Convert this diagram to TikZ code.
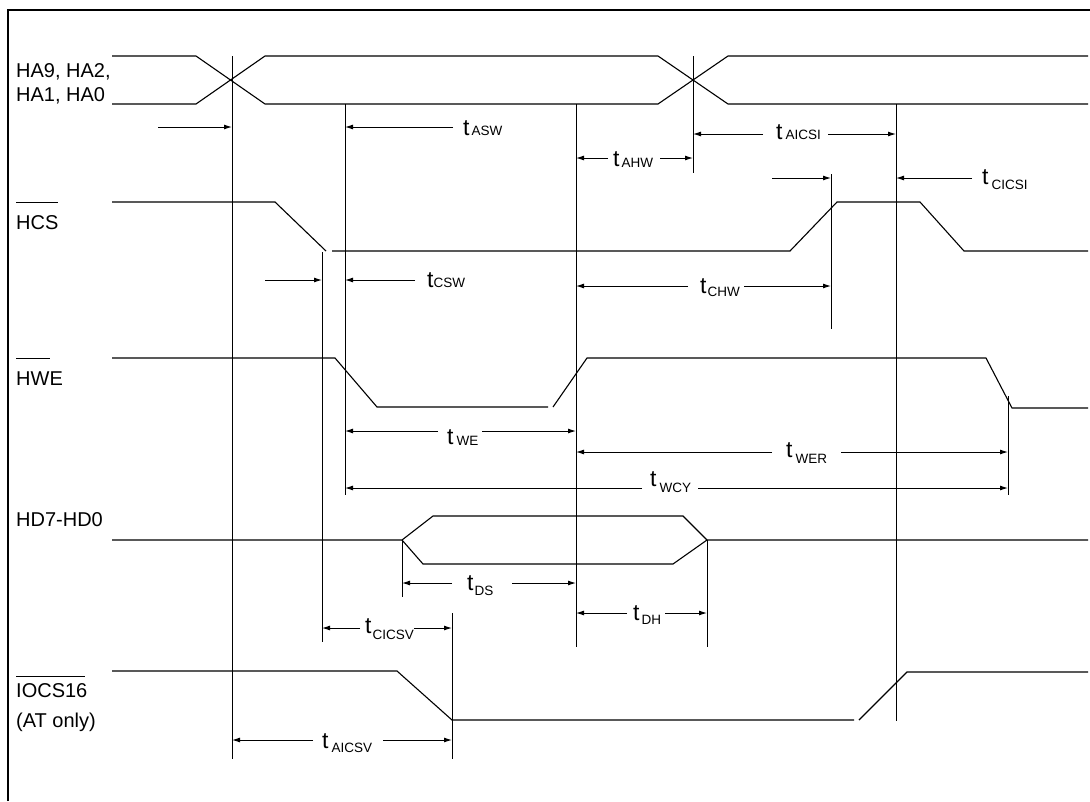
\documentclass[tikz,border=0pt]{standalone}
\usepackage{fontspec}
\setmainfont{Liberation Sans}
\usetikzlibrary{arrows.meta}
\newcommand{\tlab}[3]{{\fontsize{23}{24}\selectfont t}\hspace{#1}\raisebox{-#2}{\fontsize{13.5}{14}\selectfont #3}}
\tikzset{
  sig/.style={line width=1.1pt, line join=miter},
  vref/.style={line width=1pt},
  dim/.style={line width=1pt, -{Latex[length=8pt,width=5pt]}},
  frame/.style={line width=1.8pt},
  signame/.style={anchor=base west, inner sep=0pt, font=\fontsize{20}{24}\selectfont},
  tname/.style={anchor=base west, inner sep=0pt},
  ovl/.style={line width=1pt}
}
\begin{document}
\begin{tikzpicture}[x=1pt,y=-1pt]
\useasboundingbox (0,0) rectangle (1090,801);
% frame (top and left edges)
\draw[frame] (8,801) -- (8,10) -- (1090,10);

% ---------- signal names ----------
\node[signame] (nHA1) at (16,77) {HA9, HA2,};
\node[signame] (nHA2) at (16,101) {HA1, HA0};
\node[signame] (nHCS) at (16,229) {HCS};
\draw[ovl] (16,202) -- (58,202);
\node[signame] (nHWE) at (16,385) {HWE};
\draw[ovl] (16,358) -- (50,358);
\node[signame] (nHD) at (16,526) {HD7-HD0};
\node[signame] (nIO) at (16,697) {IOCS16};
\draw[ovl] (16,676) -- (85,676);
\node[signame] (nAT) at (16,727) {(AT only)};

% ---------- waveforms ----------
% HA bus
\draw[sig] (112,56) -- (196,56) -- (265,104) -- (658,104) -- (728,56) -- (1088,56);
\draw[sig] (112,104) -- (196,104) -- (265,56) -- (658,56) -- (728,104) -- (1088,104);
% HCS
\draw[sig] (112,202) -- (275,202) -- (326,251);
\draw[sig] (332,251) -- (790,251) -- (837,202) -- (920,202) -- (964,251) -- (1088,251);
% HWE
\draw[sig] (112,358) -- (335,358) -- (377,407) -- (548,407);
\draw[sig] (553,407) -- (587,358) -- (986,358) -- (1012,408) -- (1088,408);
% HD7-HD0
\draw[sig] (112,540) -- (402,540) -- (433,516) -- (683,516) -- (707,540) -- (1088,540);
\draw[sig] (402,540) -- (423,564) -- (673,564) -- (707,540);
% IOCS16
\draw[sig] (112,671) -- (397,671) -- (452,720) -- (854,720);
\draw[sig] (859,720) -- (907,672) -- (1088,672);

% ---------- vertical reference lines ----------
\draw[vref] (232,56) -- (232,759);
\draw[vref] (345,104) -- (345,495);
\draw[vref] (322,252) -- (322,642);
\draw[vref] (576,104) -- (576,647);
\draw[vref] (693,56) -- (693,173);
\draw[vref] (831,174) -- (831,329);
\draw[vref] (896,104) -- (896,721);
\draw[vref] (1008,396) -- (1008,495);
\draw[vref] (402,540) -- (402,597);
\draw[vref] (707,540) -- (707,647);
\draw[vref] (452,613) -- (452,759);

% ---------- timing labels ----------
\node[tname] (tASW) at (463,135) {\tlab{2pt}{0pt}{ASW}};
\node[tname] (tCSW) at (427,287) {\tlab{0pt}{0pt}{CSW}};
\node[tname] (tAHW) at (613,166) {\tlab{2pt}{1pt}{AHW}};
\node[tname] (tAICSI) at (776,139) {\tlab{3pt}{0pt}{AICSI}};
\node[tname] (tCICSI) at (982,184) {\tlab{3pt}{5pt}{CICSI}};
\node[tname] (tCHW) at (700,293) {\tlab{1pt}{3pt}{CHW}};
\node[tname] (tWE) at (447,444) {\tlab{3pt}{1pt}{WE}};
\node[tname] (tWER) at (786,457) {\tlab{3pt}{6pt}{WER}};
\node[tname] (tWCY) at (650,486) {\tlab{3pt}{6pt}{WCY}};
\node[tname] (tDS) at (467,590) {\tlab{1pt}{5pt}{DS}};
\node[tname] (tDH) at (633,620) {\tlab{2pt}{4pt}{DH}};
\node[tname] (tCICSV) at (365,633) {\tlab{1pt}{6pt}{CICSV}};
\node[tname] (tAICSV) at (322,748) {\tlab{3pt}{4pt}{AICSV}};

% ---------- dimension arrows ----------
% tASW
\coordinate (a1) at (158,127); \coordinate (a2) at (232,127);
\coordinate (a3) at (453,127); \coordinate (a4) at (345,127);
\draw[dim] (a1) -- (a2); \draw[dim] (a3) -- (a4);
% tCSW
\coordinate (b1) at (265,280); \coordinate (b2) at (322,280);
\coordinate (b3) at (415,280); \coordinate (b4) at (345,280);
\draw[dim] (b1) -- (b2); \draw[dim] (b3) -- (b4);
% tAHW
\coordinate (c1) at (608,158); \coordinate (c2) at (576,158);
\coordinate (c3) at (660,158); \coordinate (c4) at (693,158);
\draw[dim] (c1) -- (c2); \draw[dim] (c3) -- (c4);
% tAICSI
\coordinate (d1) at (763,134); \coordinate (d2) at (693,134);
\coordinate (d3) at (828,134); \coordinate (d4) at (896,134);
\draw[dim] (d1) -- (d2); \draw[dim] (d3) -- (d4);
% tCICSI
\coordinate (e1) at (772,178); \coordinate (e2) at (831,178);
\coordinate (e3) at (972,178); \coordinate (e4) at (896,178);
\draw[dim] (e1) -- (e2); \draw[dim] (e3) -- (e4);
% tCHW
\coordinate (f1) at (688,286); \coordinate (f2) at (576,286);
\coordinate (f3) at (744,286); \coordinate (f4) at (831,286);
\draw[dim] (f1) -- (f2); \draw[dim] (f3) -- (f4);
% tWE
\coordinate (g1) at (438,431); \coordinate (g2) at (345,431);
\coordinate (g3) at (482,431); \coordinate (g4) at (576,431);
\draw[dim] (g1) -- (g2); \draw[dim] (g3) -- (g4);
% tWER
\coordinate (h1) at (772,452); \coordinate (h2) at (576,452);
\coordinate (h3) at (841,452); \coordinate (h4) at (1008,452);
\draw[dim] (h1) -- (h2); \draw[dim] (h3) -- (h4);
% tWCY
\coordinate (i1) at (642,488); \coordinate (i2) at (345,488);
\coordinate (i3) at (698,488); \coordinate (i4) at (1008,488);
\draw[dim] (i1) -- (i2); \draw[dim] (i3) -- (i4);
% tDS
\coordinate (j1) at (452,583); \coordinate (j2) at (402,583);
\coordinate (j3) at (512,583); \coordinate (j4) at (576,583);
\draw[dim] (j1) -- (j2); \draw[dim] (j3) -- (j4);
% tDH
\coordinate (k1) at (627,613); \coordinate (k2) at (576,613);
\coordinate (k3) at (665,613); \coordinate (k4) at (707,613);
\draw[dim] (k1) -- (k2); \draw[dim] (k3) -- (k4);
% tCICSV
\coordinate (l1) at (360,628); \coordinate (l2) at (322,628);
\coordinate (l3) at (414,628); \coordinate (l4) at (452,628);
\draw[dim] (l1) -- (l2); \draw[dim] (l3) -- (l4);
% tAICSV
\coordinate (m1) at (313,740); \coordinate (m2) at (232,740);
\coordinate (m3) at (383,740); \coordinate (m4) at (452,740);
\draw[dim] (m1) -- (m2); \draw[dim] (m3) -- (m4);
\end{tikzpicture}
\end{document}
